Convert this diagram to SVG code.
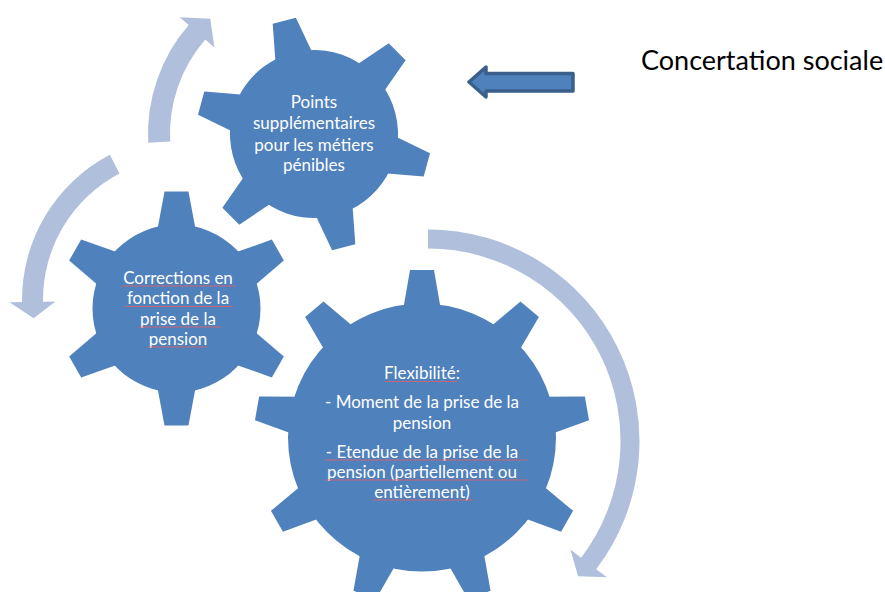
<svg xmlns="http://www.w3.org/2000/svg" width="885" height="592" viewBox="0 0 885 592">
<style>
.gear{fill:#4f81bd}
.arc{fill:#b0c0dc}
.gt{font-family:Lato,"Liberation Sans",sans-serif;font-size:17px;fill:#ffffff;text-anchor:middle}
.sq{stroke:#e0606a;stroke-width:1;fill:none;opacity:0.85}
.lbl{font-family:Lato,"Liberation Sans",sans-serif;font-size:27px;fill:#000000}
</style>
<defs>
<polygon id="t6" points="-20.4,-72 -12,-117 12,-117 20.4,-72"/>
<polygon id="t9" points="-19.9,-122 -12,-167.5 12,-167.5 19.9,-122"/>
</defs>
<rect width="885" height="592" fill="#ffffff"/>
<g id="connectors">
<path id="arrow-a" class="arc" d="M148.2,142.7 A166,166 0 0 1 188.7,25.1 L179.7,17.2 L210.3,18.8 L214.4,47.4 L205.3,39.5 A144,144 0 0 0 170.2,141.5 Z"/>
<path id="arrow-b" class="arc" d="M109.8,154.8 A164,164 0 0 0 22.0,302.0 L9.5,302.2 L33.6,318.2 L55.5,301.6 L43.0,301.7 A143,143 0 0 1 119.5,173.4 Z"/>
<path id="arrow-c" class="arc" d="M428,229.5 A211.5,211.5 0 0 1 596.2,569.2 L607,577.3 L578.1,576.2 L570.4,549.5 L581.1,557.7 A192.5,192.5 0 0 0 428,248.5 Z"/>
<path id="block-arrow" d="M469,82 L486,67 L486,73.5 L573,73.5 L573,91 L486,91 L486,97 Z" fill="#4f81bd" stroke="#3a5f8b" stroke-width="3.5" stroke-linejoin="round"/>
</g>
<g id="gear-points" class="gear">
<g transform="translate(314,134) rotate(-14.7)">
<circle r="84"/>
<use href="#t6"/><use href="#t6" transform="rotate(60)"/><use href="#t6" transform="rotate(120)"/><use href="#t6" transform="rotate(180)"/><use href="#t6" transform="rotate(240)"/><use href="#t6" transform="rotate(300)"/>
</g>
<text class="gt" x="314" y="107.5">Points</text>
<text class="gt" x="314" y="129">supplémentaires</text>
<text class="gt" x="314" y="150.5">pour les métiers</text>
<text class="gt" x="314" y="171">pénibles</text>
</g>
<g id="gear-corrections" class="gear">
<g transform="translate(176.5,308.5)">
<circle r="84"/>
<use href="#t6"/><use href="#t6" transform="rotate(60)"/><use href="#t6" transform="rotate(120)"/><use href="#t6" transform="rotate(180)"/><use href="#t6" transform="rotate(240)"/><use href="#t6" transform="rotate(300)"/>
</g>
<text class="gt" x="178" y="283.5">Corrections en</text>
<text class="gt" x="178" y="304">fonction de la</text>
<text class="gt" x="178" y="324.5">prise de la</text>
<text class="gt" x="178" y="344.5">pension</text>
<line class="sq" x1="121.5" y1="286" x2="236" y2="286"/>
<line class="sq" x1="125" y1="306.5" x2="233" y2="306.5"/>
<line class="sq" x1="138.5" y1="327" x2="221" y2="327"/>
<line class="sq" x1="147.5" y1="347" x2="207" y2="347"/>
</g>
<g id="gear-flexibilite" class="gear">
<g transform="translate(422,437.5)">
<circle r="134"/>
<use href="#t9"/><use href="#t9" transform="rotate(40)"/><use href="#t9" transform="rotate(80)"/><use href="#t9" transform="rotate(120)"/><use href="#t9" transform="rotate(160)"/><use href="#t9" transform="rotate(200)"/><use href="#t9" transform="rotate(240)"/><use href="#t9" transform="rotate(280)"/><use href="#t9" transform="rotate(320)"/>
</g>
<text class="gt" x="422" y="379">Flexibilité:</text>
<text class="gt" x="422" y="408">- Moment de la prise de la</text>
<text class="gt" x="422" y="428.5">pension</text>
<text class="gt" x="422" y="457.5">- Etendue de la prise de la</text>
<text class="gt" x="422" y="477.5">pension (partiellement ou</text>
<text class="gt" x="422" y="497.5">entièrement)</text>
<line class="sq" x1="385" y1="381.5" x2="457" y2="381.5"/>
<line class="sq" x1="325" y1="460" x2="527" y2="460"/>
<line class="sq" x1="325" y1="480" x2="527" y2="480"/>
<line class="sq" x1="373" y1="500" x2="473" y2="500"/>
</g>
<g id="label-concertation">
<text class="lbl" x="641" y="70">Concertation sociale</text>
</g>
</svg>
